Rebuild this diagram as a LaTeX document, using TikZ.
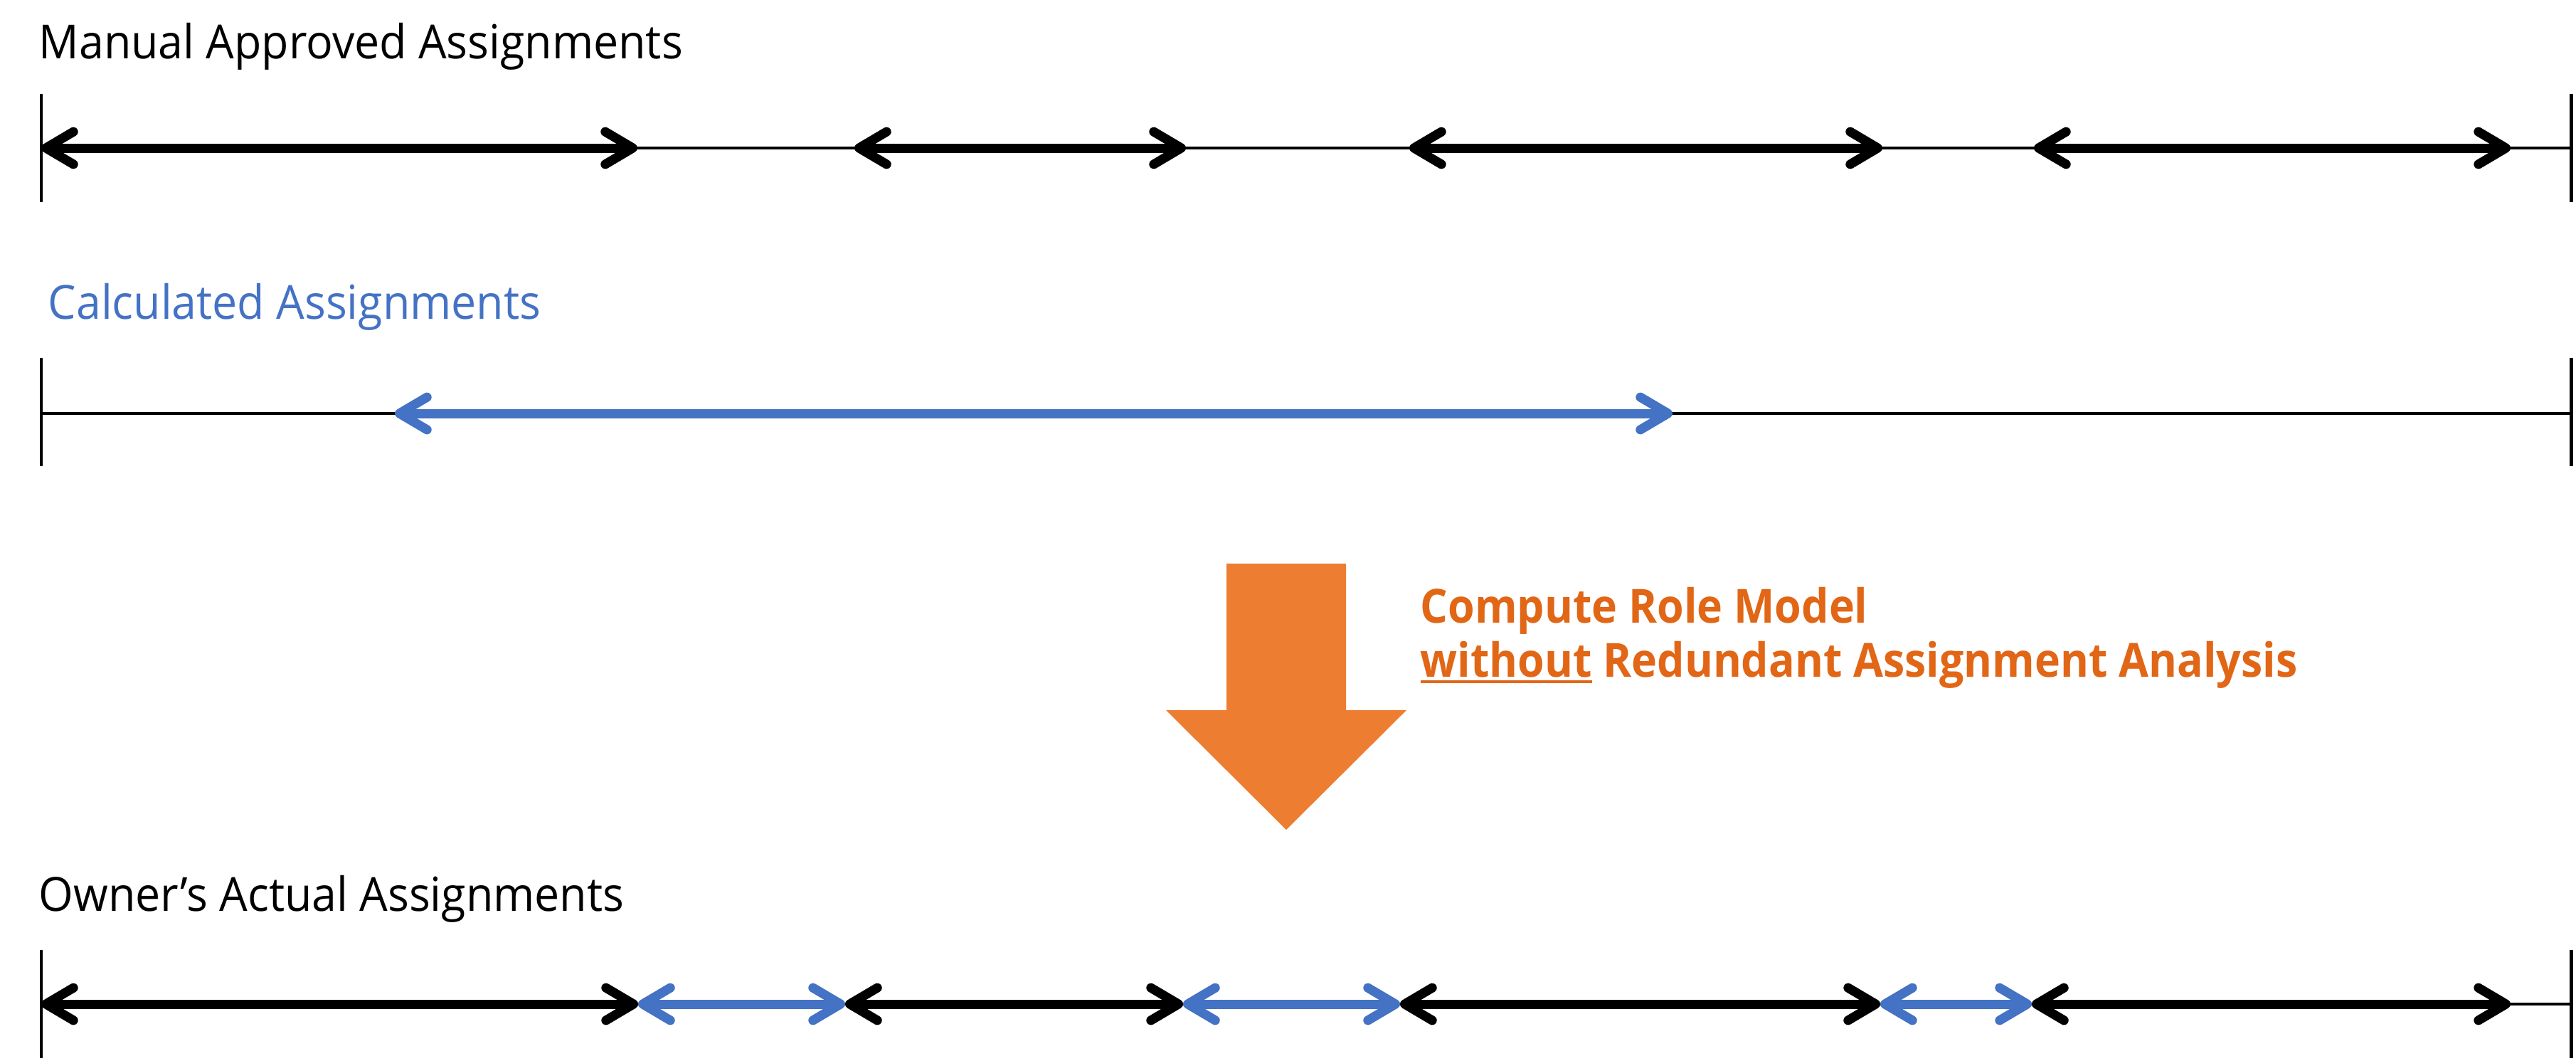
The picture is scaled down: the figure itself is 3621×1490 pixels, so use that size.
\documentclass[tikz,border=0pt]{standalone}
\usepackage{fontspec}
\setmainfont{Open Sans}[FakeStretch=0.947]
\newfontfamily\orangefont{Open Sans}[FakeStretch=0.92]
\usetikzlibrary{arrows.meta}
\definecolor{cblue}{HTML}{4472C4}
\definecolor{corange}{HTML}{ED7D31}
\definecolor{ctext}{RGB}{225,102,22}
\newcommand\myunderline[1]{\setbox0\hbox{#1}\rlap{\rule[-2.56pt]{\wd0}{1.14pt}}\box0\relax}
\tikzset{
  head/.tip={Straight Barb[length=11pt,width=13pt,round]},
  tickline/.style={line width=1.4pt,black},
  axisline/.style={line width=1.15pt,black},
  seg/.style={line width=3.7pt,black,{head}-{head}},
  blueseg/.style={seg,cblue},
  titletext/.style={inner sep=0pt,anchor=base west,font=\fontsize{18.8pt}{22pt}\selectfont},
  orangetext/.style={inner sep=0pt,anchor=base west,text=ctext,font=\orangefont\fontsize{18.8pt}{22pt}\selectfont\bfseries},
}
\begin{document}
\begin{tikzpicture}[x=0.01cm,y=-0.01cm]
\path[use as bounding box,fill=white] (0,0) rectangle (3621,1490);

% ---------- Row 1 : Manual Approved Assignments
\node[titletext] (t1) at (54,82) {Manual Approved Assignments};
\coordinate (r1lt) at (58,132);  \coordinate (r1lb) at (58,284);
\coordinate (r1rt) at (3614,132); \coordinate (r1rb) at (3614,284);
\coordinate (r1s) at (58,208);   \coordinate (r1e) at (3614,208);
\coordinate (r1a) at (896,208);
\coordinate (r1b) at (1201,208); \coordinate (r1c) at (1667,208);
\coordinate (r1d) at (1981,208); \coordinate (r1f) at (2646,208);
\coordinate (r1g) at (2859,208); \coordinate (r1h) at (3529,208);
\draw[tickline] (r1lt) -- (r1lb);
\draw[tickline] (r1rt) -- (r1rb);
\draw[axisline] (r1s) -- (r1e);
\draw[seg] (r1s) -- (r1a);
\draw[seg] (r1b) -- (r1c);
\draw[seg] (r1d) -- (r1f);
\draw[seg] (r1g) -- (r1h);

% ---------- Row 2 : Calculated Assignments
\node[titletext,text=cblue] (t2) at (67,448) {Calculated Assignments};
\coordinate (r2lt) at (58,503);  \coordinate (r2lb) at (58,655);
\coordinate (r2rt) at (3614,503); \coordinate (r2rb) at (3614,655);
\coordinate (r2s) at (58,581);   \coordinate (r2e) at (3614,581);
\coordinate (r2a) at (555,581);  \coordinate (r2b) at (2351,581);
\draw[tickline] (r2lt) -- (r2lb);
\draw[tickline] (r2rt) -- (r2rb);
\draw[axisline] (r2s) -- (r2e);
\draw[blueseg] (r2a) -- (r2b);

% ---------- Big orange arrow and label
\fill[corange] (1724,792) -- (1892,792) -- (1892,998) -- (1977,998)
  -- (1808,1166) -- (1639,998) -- (1724,998) -- cycle;
\node[orangetext] (o1) at (1996,875) {Compute Role Model};
\node[orangetext] (o2) at (1996,951) {\myunderline{without} Redundant Assignment Analysis};

% ---------- Row 4 : Owner's Actual Assignments
\node[titletext] (t4) at (54,1280) {Owner’s Actual Assignments};
\coordinate (r4lt) at (58,1335);  \coordinate (r4lb) at (58,1487);
\coordinate (r4rt) at (3614,1335); \coordinate (r4rb) at (3614,1487);
\coordinate (r4s) at (58,1411);   \coordinate (r4e) at (3614,1411);
\coordinate (r4a) at (897,1411);
\coordinate (r4b) at (1188,1411); \coordinate (r4c) at (1663,1411);
\coordinate (r4d) at (1968,1411); \coordinate (r4f) at (2643,1411);
\coordinate (r4g) at (2856,1411); \coordinate (r4h) at (3529,1411);
\draw[tickline] (r4lt) -- (r4lb);
\draw[tickline] (r4rt) -- (r4rb);
\draw[axisline] (r4s) -- (r4e);
\draw[seg] (r4s) -- (r4a);
\draw[blueseg] (r4a) -- (r4b);
\draw[seg] (r4b) -- (r4c);
\draw[blueseg] (r4c) -- (r4d);
\draw[seg] (r4d) -- (r4f);
\draw[blueseg] (r4f) -- (r4g);
\draw[seg] (r4g) -- (r4h);
\end{tikzpicture}
\end{document}
